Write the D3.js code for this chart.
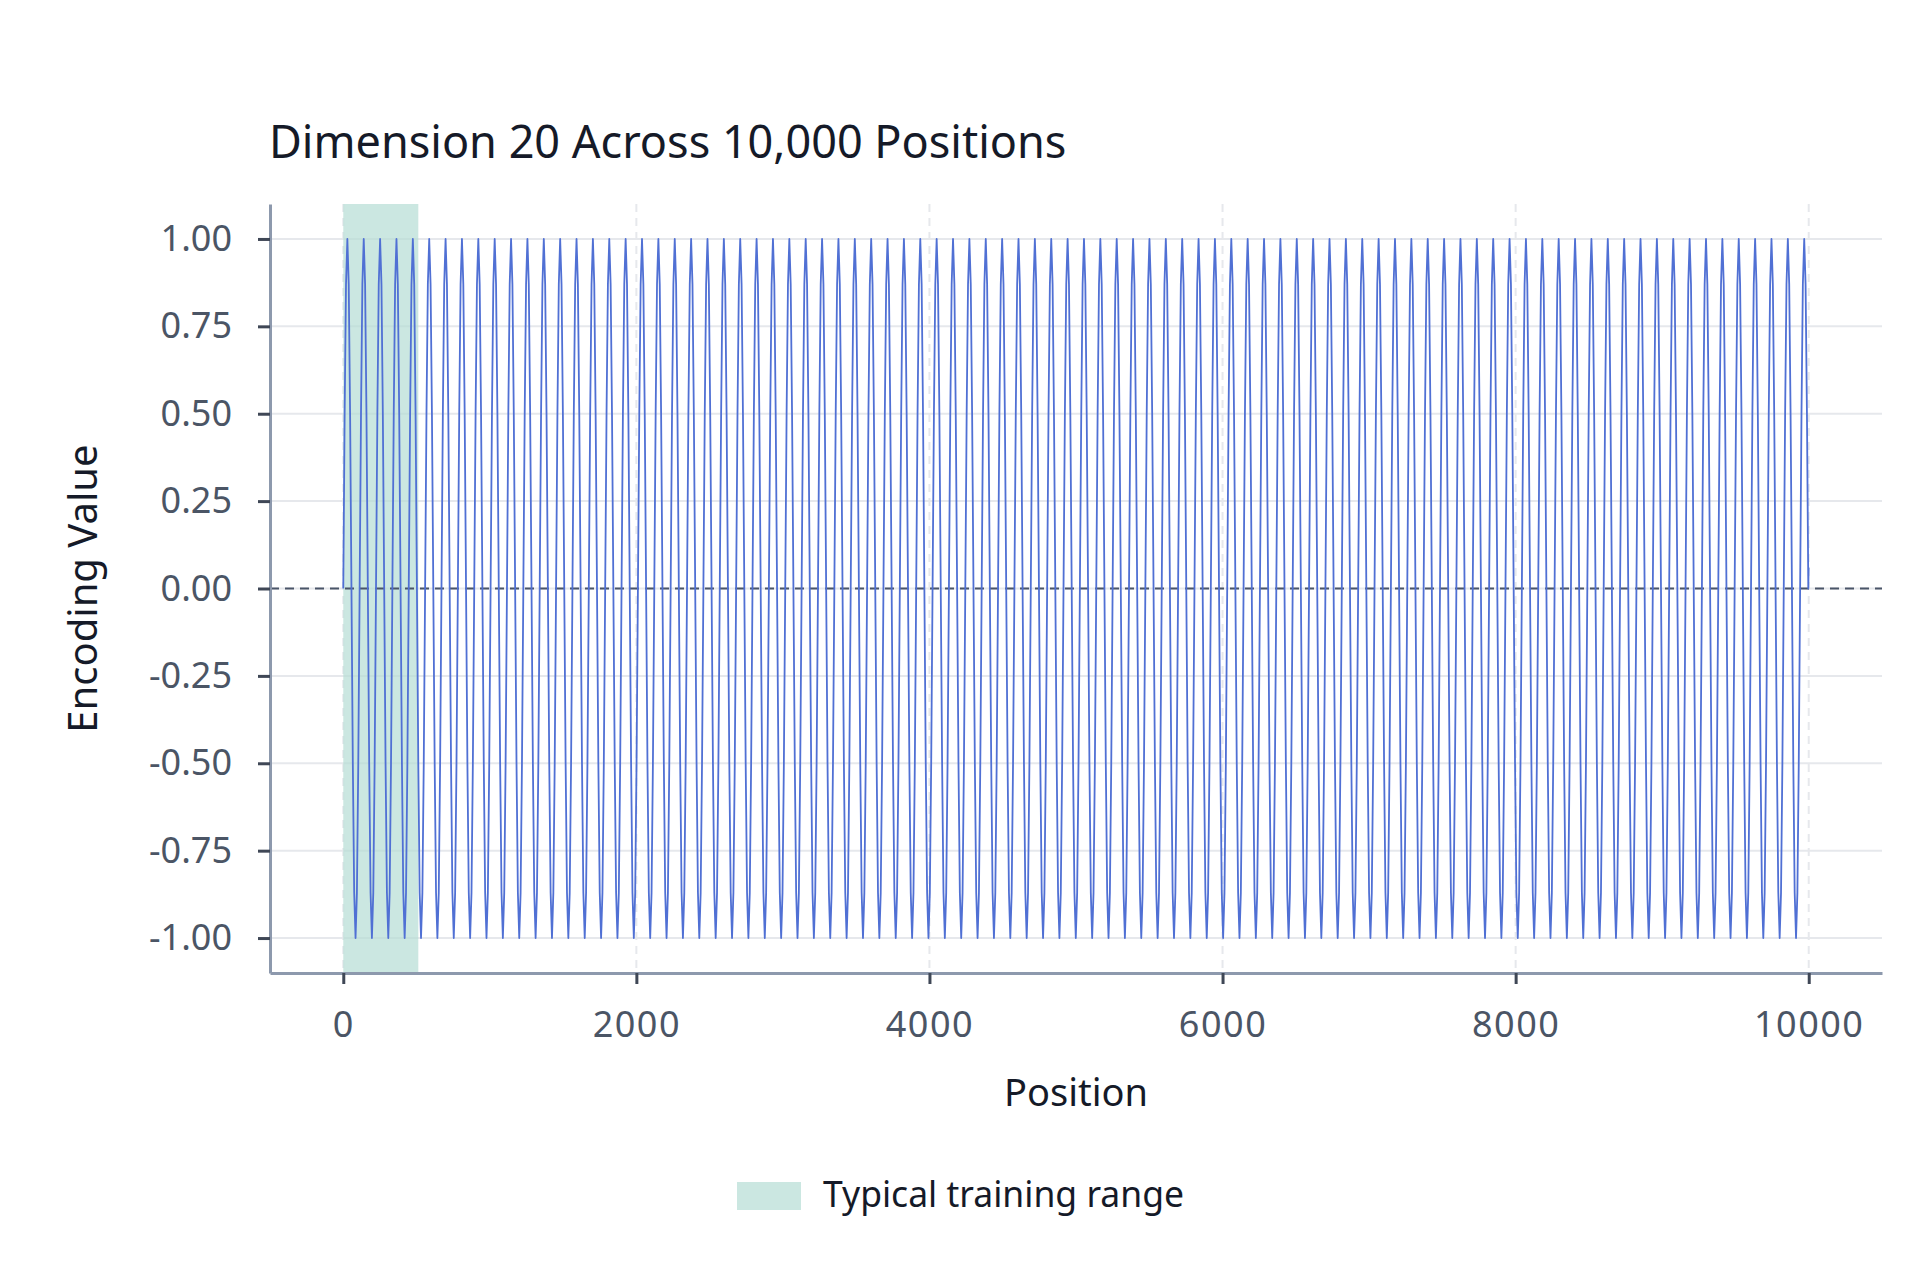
<!DOCTYPE html>
<html>
<head>
<meta charset="utf-8">
<script src="https://cdn.jsdelivr.net/npm/d3@7"></script>
<style>
  html, body { margin: 0; padding: 0; background: #ffffff; }
  body { width: 1920px; height: 1280px; overflow: hidden; }
  text { font-family: "Noto Sans", sans-serif; }
</style>
</head>
<body>
<div id="chart"></div>
<script>
// values
const titleText = "Dimension 20 Across 10,000 Positions";
const positionExtent = [0, 9999];
const cycleLength = 111.7;          // positions between two peaks
const cycleShape = [0, 0.5, 0.87, 1, 0.87, 0.5, 0, -0.5, -0.87, -1, -0.87, -0.5];
const lastValue = 0.06;             // where the wave stops at position 9999
const trainingRange = [0, 512];
const xTicks = [0, 2000, 4000, 6000, 8000, 10000];
const yTicks = [-1, -0.75, -0.5, -0.25, 0, 0.25, 0.5, 0.75, 1];
const legendLabel = "Typical training range";

// build the series by repeating the read wave shape
const step = cycleLength / cycleShape.length;
const series = [];
for (let k = 0; k * step <= positionExtent[1]; k++) {
	series.push({ pos: k * step, val: cycleShape[k % cycleShape.length] });
}
series.push({ pos: positionExtent[1], val: lastValue });

const width = 1920;
const height = 1280;
const margin = { top: 204, right: 38, bottom: 307, left: 270 };

const svg = d3.select("#chart")
				.append("svg")
					.attr("width", width)
					.attr("height", height);

const x = d3.scaleLinear()
				.domain([-500, 10500])
				.range([margin.left, width - margin.right]);
const y = d3.scaleLinear()
				.domain([-1.1, 1.1])
				.range([height - margin.bottom, margin.top]);

const plotTop = margin.top;
const plotBottom = height - margin.bottom;

// horizontal grid
svg.append("g")
	.selectAll("line")
	.data(yTicks)
	.join("line")
		.attr("x1", margin.left)
		.attr("x2", width - margin.right)
		.attr("y1", (d) => y(d))
		.attr("y2", (d) => y(d))
		.style("stroke", "#e6e8ec")
		.style("stroke-width", 2);

// vertical grid (dashed)
svg.append("g")
	.selectAll("line")
	.data(xTicks)
	.join("line")
		.attr("x1", (d) => x(d))
		.attr("x2", (d) => x(d))
		.attr("y1", plotTop)
		.attr("y2", plotBottom)
		.style("stroke", "#e6e8ec")
		.style("stroke-width", 2)
		.style("stroke-dasharray", "8,6");

// training range band
svg.append("rect")
	.attr("x", x(trainingRange[0]))
	.attr("width", x(trainingRange[1]) - x(trainingRange[0]))
	.attr("y", plotTop)
	.attr("height", plotBottom - plotTop)
	.style("fill", "#b5ddd4")
	.style("opacity", 0.7);

// zero line
svg.append("line")
	.attr("x1", margin.left)
	.attr("x2", width - margin.right)
	.attr("y1", y(0))
	.attr("y2", y(0))
	.style("stroke", "#4a5568")
	.style("stroke-width", 2)
	.style("stroke-dasharray", "9,6");

// the wave
const line = d3.line()
				.x((d) => x(d.pos))
				.y((d) => y(d.val));

svg.append("path")
	.datum(series)
	.style("fill", "none")
	.style("stroke", "#5070d4")
	.style("stroke-width", 1.8)
	.style("stroke-linejoin", "round")
	.attr("d", line);

// axes
const xAxis = svg.append("g")
				.attr("transform", `translate(0,${plotBottom})`)
				.call(d3.axisBottom(x).tickValues(xTicks).tickFormat(d3.format("d")).tickSize(11).tickSizeOuter(0).tickPadding(27));
const yAxis = svg.append("g")
				.attr("transform", `translate(${margin.left},0)`)
				.call(d3.axisLeft(y).tickValues(yTicks).tickFormat((d) => d3.format(".2f")(d).replace("\u2212", "-")).tickSize(12).tickSizeOuter(0).tickPadding(26));

[xAxis, yAxis].forEach((a) => {
	a.select(".domain").style("stroke", "#8d99ad").style("stroke-width", 3);
	a.selectAll(".tick line").style("stroke", "#3f4756").style("stroke-width", 3);
	a.selectAll(".tick text")
		.style("font-family", "Noto Sans")
		.style("font-size", "36px")
		.style("fill", "#4b5565");
});
xAxis.selectAll(".tick text").style("letter-spacing", "1.5px");

// titles
svg.append("text")
	.text(titleText)
	.attr("x", 269)
	.attr("y", 158)
	.style("font-size", "45px")
	.style("fill", "#151a28");

svg.append("text")
	.text("Position")
	.attr("x", (margin.left + width - margin.right) / 2)
	.attr("y", 1106)
	.attr("text-anchor", "middle")
	.style("font-size", "38px")
	.style("fill", "#151a28");

svg.append("text")
	.text("Encoding Value")
	.attr("transform", `translate(97,${(plotTop + plotBottom) / 2}) rotate(-90)`)
	.attr("text-anchor", "middle")
	.style("font-size", "40px")
	.style("fill", "#151a28");

// legend
const legend = svg.append("g").attr("transform", "translate(737,1182)");
legend.append("rect")
	.attr("width", 64)
	.attr("height", 28)
	.style("fill", "#b5ddd4")
	.style("opacity", 0.7);
legend.append("text")
	.text(legendLabel)
	.attr("x", 86)
	.attr("y", 25)
	.style("font-size", "35.5px")
	.style("fill", "#151a28");
</script>
</body>
</html>
